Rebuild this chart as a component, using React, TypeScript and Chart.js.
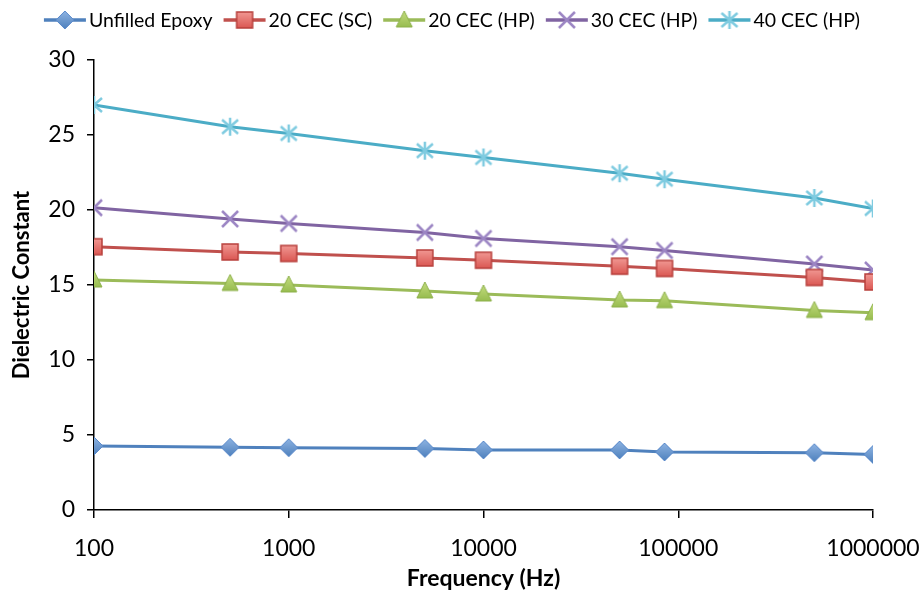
import React, { useEffect, useRef } from "react";
import { Chart, registerables } from "chart.js";

Chart.register(...registerables);

const frequencies = [100, 500, 1000, 5000, 10000, 50000, 85000, 500000, 1000000];
const unfilledEpoxy = [4.27, 4.18, 4.15, 4.1, 4.0, 4.0, 3.87, 3.82, 3.7];
const cec20SC = [17.55, 17.2, 17.1, 16.8, 16.65, 16.25, 16.1, 15.5, 15.2];
const cec20HP = [15.33, 15.1, 15.0, 14.6, 14.4, 14.0, 13.95, 13.3, 13.15];
const cec30HP = [20.15, 19.4, 19.1, 18.5, 18.1, 17.55, 17.3, 16.4, 16.0];
const cec40HP = [27.0, 25.55, 25.1, 23.95, 23.5, 22.45, 22.05, 20.8, 20.1];

const seriesNames = ["Unfilled Epoxy", "20 CEC (SC)", "20 CEC (HP)", "30 CEC (HP)", "40 CEC (HP)"];
const xTickValues = [100, 1000, 10000, 100000, 1000000];

const lineColors = ["#4F81BD", "#C0504D", "#9BBB59", "#8064A2", "#4BACC6"];
const markerKinds = ["diamond", "square", "triangle", "cross", "asterisk"];

function makeMarker(kind: string): HTMLCanvasElement {
  const c = document.createElement("canvas");
  c.width = 24;
  c.height = 24;
  const g = c.getContext("2d")!;
  const cx = 12, cy = 12;
  g.lineJoin = "miter";
  if (kind === "diamond") {
    const grd = g.createLinearGradient(0, 3, 0, 21);
    grd.addColorStop(0, "#8DB3E2");
    grd.addColorStop(1, "#4F81BD");
    g.beginPath();
    g.moveTo(cx, cy - 9);
    g.lineTo(cx + 9, cy);
    g.lineTo(cx, cy + 9);
    g.lineTo(cx - 9, cy);
    g.closePath();
    g.fillStyle = grd;
    g.fill();
    g.strokeStyle = "#5B8ACB";
    g.lineWidth = 1;
    g.stroke();
  } else if (kind === "square") {
    const grd = g.createLinearGradient(0, 3, 0, 21);
    grd.addColorStop(0, "#F29B96");
    grd.addColorStop(1, "#D9534F");
    g.fillStyle = grd;
    g.fillRect(cx - 8, cy - 8, 16, 16);
    g.strokeStyle = "#B8403C";
    g.lineWidth = 1.5;
    g.strokeRect(cx - 8, cy - 8, 16, 16);
  } else if (kind === "triangle") {
    const grd = g.createLinearGradient(0, 3, 0, 21);
    grd.addColorStop(0, "#C3DC7E");
    grd.addColorStop(1, "#92B84A");
    g.beginPath();
    g.moveTo(cx, cy - 9);
    g.lineTo(cx + 8, cy + 7);
    g.lineTo(cx - 8, cy + 7);
    g.closePath();
    g.fillStyle = grd;
    g.fill();
    g.strokeStyle = "#8DB04A";
    g.lineWidth = 1;
    g.stroke();
  } else if (kind === "cross") {
    g.strokeStyle = "#9C86C4";
    g.lineWidth = 2.5;
    g.beginPath();
    g.moveTo(cx - 8, cy - 8);
    g.lineTo(cx + 8, cy + 8);
    g.moveTo(cx + 8, cy - 8);
    g.lineTo(cx - 8, cy + 8);
    g.stroke();
  } else {
    g.strokeStyle = "#7FCBE0";
    g.lineWidth = 2.5;
    g.beginPath();
    g.moveTo(cx - 8, cy - 7);
    g.lineTo(cx + 8, cy + 7);
    g.moveTo(cx + 8, cy - 7);
    g.lineTo(cx - 8, cy + 7);
    g.moveTo(cx, cy - 9);
    g.lineTo(cx, cy + 9);
    g.stroke();
  }
  return c;
}

export default function App() {
  const ref = useRef<HTMLCanvasElement | null>(null);

  useEffect(() => {
    if (!ref.current) return;
    const allSeries = [unfilledEpoxy, cec20SC, cec20HP, cec30HP, cec40HP];
    const markers = markerKinds.map((k) => makeMarker(k));

    const legendFont = "19.5px Lato, 'Liberation Sans', sans-serif";
    const customLegend = {
      id: "customLegend",
      afterDraw(chart: any) {
        const ctx = chart.ctx as CanvasRenderingContext2D;
        ctx.save();
        ctx.font = legendFont;
        const lineW = 42;
        const gapText = 3;
        const gapItem = 11;
        const widths = seriesNames.map((n) => ctx.measureText(n).width);
        const total = widths.reduce((a, w) => a + lineW + gapText + w, 0) + gapItem * (seriesNames.length - 1);
        let x = 452 - total / 2;
        const y = 20;
        seriesNames.forEach((name, i) => {
          ctx.strokeStyle = lineColors[i];
          ctx.lineWidth = 3.5;
          ctx.beginPath();
          ctx.moveTo(x, y);
          ctx.lineTo(x + lineW, y);
          ctx.stroke();
          const m = markers[i];
          ctx.drawImage(m, x + lineW / 2 - m.width / 2, y - m.height / 2);
          ctx.fillStyle = "#000";
          ctx.textBaseline = "middle";
          ctx.textAlign = "left";
          ctx.fillText(name, x + lineW + gapText, y + 1);
          x += lineW + gapText + widths[i] + gapItem;
        });
        ctx.restore();
      },
    };

    const chart = new Chart(ref.current, {
      type: "line",
      data: {
        datasets: allSeries.map((vals, i) => ({
          label: seriesNames[i],
          data: frequencies.map((f, j) => ({ x: f, y: vals[j] })),
          borderColor: lineColors[i],
          backgroundColor: lineColors[i],
          borderWidth: 3,
          tension: 0,
          pointStyle: markers[i] as any,
          pointRadius: 9,
          fill: false,
        })),
      },
      options: {
        animation: false,
        responsive: false,
        maintainAspectRatio: false,
        layout: { padding: { top: 60, right: 47, left: 0, bottom: 0 } },
        plugins: {
          legend: { display: false },
          tooltip: { enabled: false },
        },
        scales: {
          x: {
            type: "logarithmic",
            min: 100,
            max: 1000000,
            afterBuildTicks: (scale: any) => {
              scale.ticks = xTickValues.map((v) => ({ value: v }));
            },
            afterFit: (scale: any) => {
              scale.height = 82;
              scale.paddingRight = 0;
              scale.paddingLeft = 0;
            },
            ticks: {
              autoSkip: false,
              maxRotation: 0,
              color: "#000",
              font: { family: "Lato", size: 23 },
              padding: 17,
              callback: (v: any) => String(v),
            },
            grid: {
              display: true,
              drawOnChartArea: false,
              drawTicks: true,
              tickLength: 8,
              color: "#000",
              lineWidth: 1.5,
            },
            border: { display: true, color: "#000", width: 1.5 },
            title: {
              display: true,
              text: "Frequency (Hz)",
              color: "#000",
              font: { family: "Lato", size: 23, weight: "bold" },
              padding: { top: 0, bottom: 0 },
            },
          },
          y: {
            type: "linear",
            min: 0,
            max: 30,
            afterFit: (scale: any) => {
              scale.width = 94;
            },
            ticks: {
              stepSize: 5,
              color: "#000",
              font: { family: "Lato", size: 23 },
              padding: 12,
            },
            grid: {
              display: true,
              drawOnChartArea: false,
              drawTicks: true,
              tickLength: 7,
              color: "#000",
              lineWidth: 1.5,
            },
            border: { display: true, color: "#000", width: 1.5 },
            title: {
              display: true,
              text: "Dielectric Constant",
              color: "#000",
              font: { family: "Lato", size: 22, weight: "bold" },
              padding: { top: 9, bottom: 0 },
            },
          },
        },
      },
      plugins: [customLegend],
    } as any);

    return () => chart.destroy();
  }, []);

  return (
    <div style={{ position: "absolute", left: 0, top: 0, width: 920, height: 592, background: "#fff" }}>
      <canvas ref={ref} width={920} height={592} style={{ width: 920, height: 592, display: "block" }} />
    </div>
  );
}
